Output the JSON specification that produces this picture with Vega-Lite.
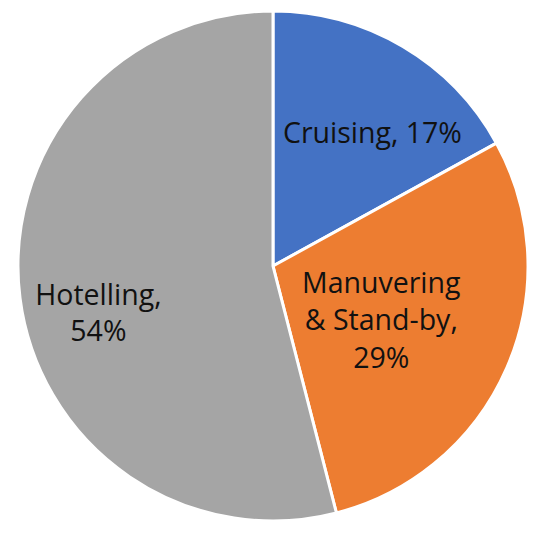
{
  "$schema": "https://vega.github.io/schema/vega-lite/v6.json",
  "width": 550,
  "height": 534,
  "autosize": {"type": "fit", "contains": "padding"},
  "padding": {"left": 0, "top": 0, "right": 4, "bottom": 2},
  "background": "white",
  "view": {"stroke": null},
  "data": {"values": [
    {"category": "Cruising", "label": "Cruising, 17%", "value": 17, "order": 1},
    {"category": "Manuvering & Stand-by", "label": "Manuvering\n& Stand-by,\n29%", "value": 29, "order": 2},
    {"category": "Hotelling", "label": "Hotelling,\n54%", "value": 54, "order": 3}
  ]},
  "transform": [
    {"stack": "value", "groupby": [], "sort": [{"field": "order"}], "as": ["v0", "v1"]},
    {"calculate": "(datum.v0 + datum.v1) / 2", "as": "mid"}
  ],
  "layer": [
    {
      "mark": {"type": "arc", "outerRadius": 255, "stroke": "white", "strokeWidth": 3},
      "encoding": {
        "theta": {"field": "v0", "type": "quantitative", "scale": {"domain": [0, 100]}},
        "theta2": {"field": "v1"},
        "color": {"field": "category", "type": "nominal", "legend": null,
          "scale": {"domain": ["Cruising", "Manuvering & Stand-by", "Hotelling"], "range": ["#4472C4", "#ED7D31", "#A5A5A5"]}}
      }
    },
    {
      "transform": [{"filter": "datum.category == 'Cruising'"}],
      "mark": {"type": "text", "font": "Open Sans", "fontSize": 28.5, "color": "#111111", "lineBreak": "\n", "lineHeight": 37, "baseline": "middle", "dx": 18, "dy": 6},
      "encoding": {
        "theta": {"field": "mid", "type": "quantitative", "scale": {"domain": [0, 100]}},
        "radius": {"value": 160},
        "text": {"field": "label"}
      }
    },
    {
      "transform": [{"filter": "datum.category == 'Manuvering & Stand-by'"}],
      "mark": {"type": "text", "font": "Open Sans", "fontSize": 28.5, "color": "#111111", "lineBreak": "\n", "lineHeight": 37.5, "baseline": "middle", "dy": -29},
      "encoding": {
        "theta": {"field": "mid", "type": "quantitative", "scale": {"domain": [0, 100]}},
        "radius": {"value": 118},
        "text": {"field": "label"}
      }
    },
    {
      "transform": [{"filter": "datum.category == 'Hotelling'"}],
      "mark": {"type": "text", "font": "Open Sans", "fontSize": 28.5, "color": "#111111", "lineBreak": "\n", "lineHeight": 36, "baseline": "middle", "dy": 8},
      "encoding": {
        "theta": {"field": "mid", "type": "quantitative", "scale": {"domain": [0, 100]}},
        "radius": {"value": 176},
        "text": {"field": "label"}
      }
    }
  ]
}
